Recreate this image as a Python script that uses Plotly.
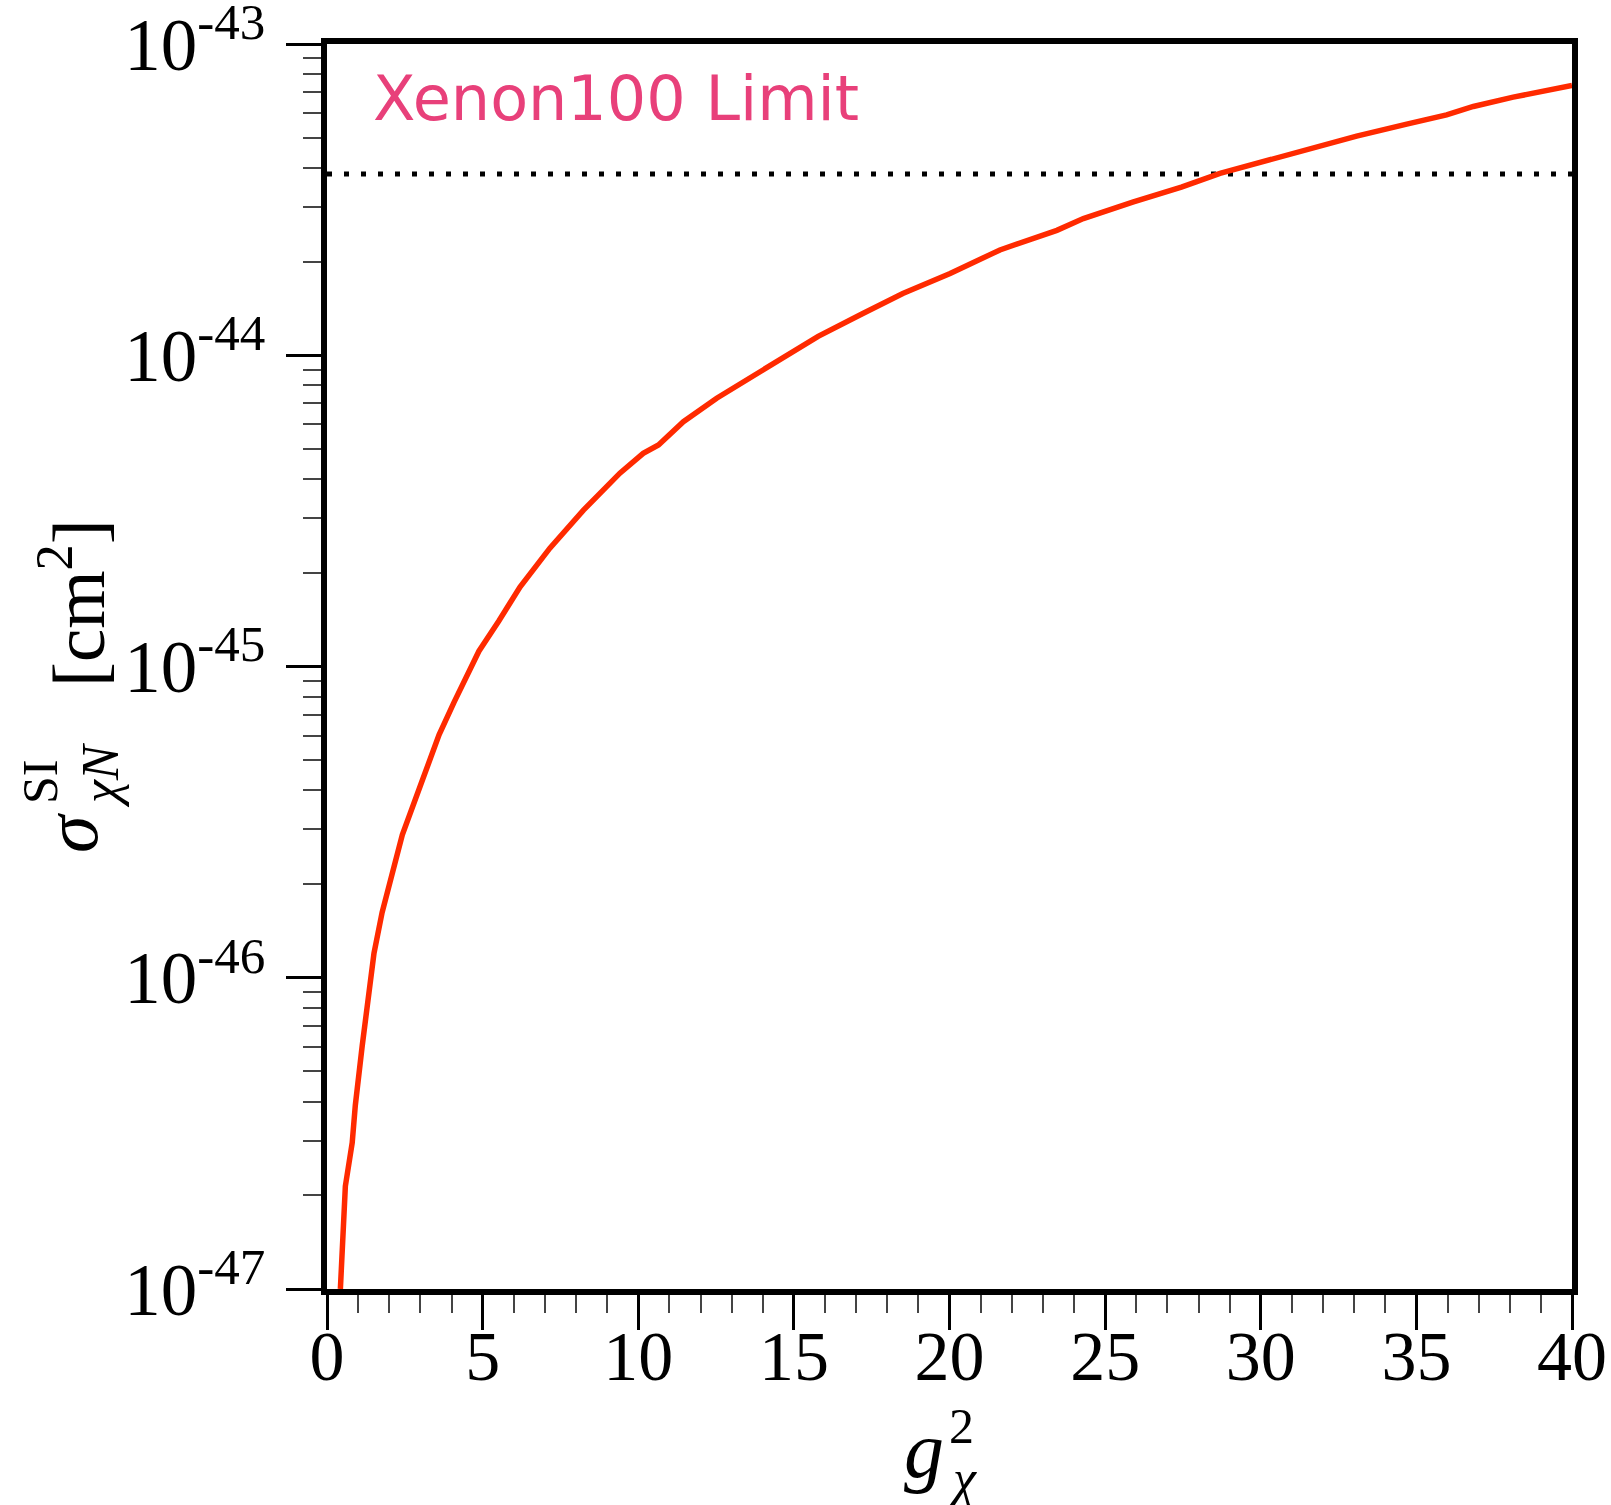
import plotly.graph_objects as go

# ---- data ----
g2 = [0.43, 0.59, 0.81, 0.91, 1.13, 1.29, 1.51, 1.77, 2.04, 2.42, 3.01, 3.60, 4.08,
      4.88, 5.52, 6.20, 7.16, 8.24, 9.41, 10.16, 10.65, 11.45, 12.52, 13.45, 14.6,
      15.78, 17.2, 18.5, 20.02, 21.62, 23.45, 24.30, 25.91, 27.45, 28.69, 30.08,
      31.69, 33.08, 34.69, 35.97, 36.83, 38.11, 40.0]
sigma = [1.00e-47, 2.14e-47, 2.95e-47, 3.89e-47, 6.03e-47, 8.13e-47, 1.20e-46,
         1.62e-46, 2.09e-46, 2.88e-46, 4.17e-46, 6.03e-46, 7.67e-46, 1.12e-45,
         1.40e-45, 1.80e-45, 2.40e-45, 3.18e-45, 4.18e-45, 4.84e-45, 5.15e-45,
         6.12e-45, 7.28e-45, 8.32e-45, 9.82e-45, 1.15e-44, 1.36e-44, 1.58e-44,
         1.83e-44, 2.18e-44, 2.52e-44, 2.75e-44, 3.11e-44, 3.47e-44, 3.84e-44,
         4.19e-44, 4.62e-44, 5.06e-44, 5.53e-44, 5.92e-44, 6.30e-44, 6.75e-44,
         7.36e-44]
limit_x = [0, 40]
limit_y = [3.82e-44, 3.82e-44]

x_tickvals = [0, 5, 10, 15, 20, 25, 30, 35, 40]
x_ticktext = ["0", "5", "10", "15", "20", "25", "30", "35", "40"]
y_tickvals = [1e-47, 1e-46, 1e-45, 1e-44, 1e-43]
y_ticktext = ["10<sup>-47</sup>", "10<sup>-46</sup>", "10<sup>-45</sup>",
              "10<sup>-44</sup>", "10<sup>-43</sup>"]

SERIF = "Liberation Serif"
W, H = 1611, 1505
L, R, T, B = 327, 1572, 44, 1289

def px(xp):
    return (xp - L) / (R - L)

def py(yp):
    return (B - yp) / (B - T)

fig = go.Figure()
fig.add_trace(go.Scatter(x=limit_x, y=limit_y, mode="lines",
                         line=dict(color="black", width=5, dash="5px,12px"),
                         showlegend=False, hoverinfo="skip"))
fig.add_trace(go.Scatter(x=g2, y=sigma, mode="lines",
                         line=dict(color="#ff2a00", width=5.5),
                         showlegend=False))

fig.update_layout(
    width=W, height=H,
    margin=dict(l=L, r=W - R, t=T, b=H - B, autoexpand=False),
    paper_bgcolor="white", plot_bgcolor="white",
    font=dict(family=SERIF, color="black"),
)
fig.update_xaxes(
    range=[0, 40], tickvals=x_tickvals, ticktext=x_ticktext, automargin=False,
    ticks="outside", ticklen=35, tickwidth=2.5, tickcolor="black",
    tickfont=dict(family=SERIF, size=70, color="black"),
    ticklabelstandoff=-34, ticklabeloverflow="allow",
    showline=True, linecolor="black", linewidth=6, mirror=True,
    showgrid=False, zeroline=False,
    minor=dict(dtick=1, ticks="outside", ticklen=18, tickwidth=2, tickcolor="#444", showgrid=False),
)
fig.update_yaxes(
    type="log", range=[-47, -42.9999], tickvals=y_tickvals, ticktext=y_ticktext,
    automargin=False,
    ticks="outside", ticklen=35, tickwidth=2.5, tickcolor="black",
    tickfont=dict(family=SERIF, size=73, color="black"),
    ticklabelstandoff=6, ticklabeloverflow="allow",
    showline=True, linecolor="black", linewidth=6, mirror=True,
    showgrid=False, zeroline=False,
    minor=dict(dtick="D1", ticks="outside", ticklen=18, tickwidth=2, tickcolor="#444", showgrid=False),
)

ann = []
# Xenon100 label
ann.append(dict(text="Xenon100 Limit", xref="paper", yref="paper",
                x=px(371), y=py(98), xanchor="left", yanchor="middle",
                showarrow=False, font=dict(family="DejaVu Sans", size=62, color="#e8407a")))
# x-axis title: g_chi^2
ann.append(dict(text="<i>g</i>", xref="paper", yref="paper", x=px(924), y=py(1450),
                xanchor="center", yanchor="middle", showarrow=False,
                font=dict(family=SERIF, size=80)))
ann.append(dict(text="2", xref="paper", yref="paper", x=px(961), y=py(1426),
                xanchor="center", yanchor="middle", showarrow=False,
                font=dict(family=SERIF, size=50)))
ann.append(dict(text="<i>χ</i>", xref="paper", yref="paper", x=px(962), y=py(1478),
                xanchor="center", yanchor="middle", showarrow=False,
                font=dict(family=SERIF, size=52)))
# y-axis title: sigma^SI_{chi N} [cm^2]
ann.append(dict(text="<i>σ</i>", xref="paper", yref="paper", x=px(71), y=py(833),
                xanchor="center", yanchor="middle", showarrow=False, textangle=-90,
                font=dict(family=SERIF, size=76)))
ann.append(dict(text="SI", xref="paper", yref="paper", x=px(40), y=py(782),
                xanchor="center", yanchor="middle", showarrow=False, textangle=-90,
                font=dict(family=SERIF, size=50)))
ann.append(dict(text="<i>χN</i>", xref="paper", yref="paper", x=px(100), y=py(775),
                xanchor="center", yanchor="middle", showarrow=False, textangle=-90,
                font=dict(family=SERIF, size=52)))
ann.append(dict(text="[cm<sup>2</sup>]", xref="paper", yref="paper", x=px(72), y=py(603),
                xanchor="center", yanchor="middle", showarrow=False, textangle=-90,
                font=dict(family=SERIF, size=75)))
fig.update_layout(annotations=ann)

fig.write_html("out.html")
